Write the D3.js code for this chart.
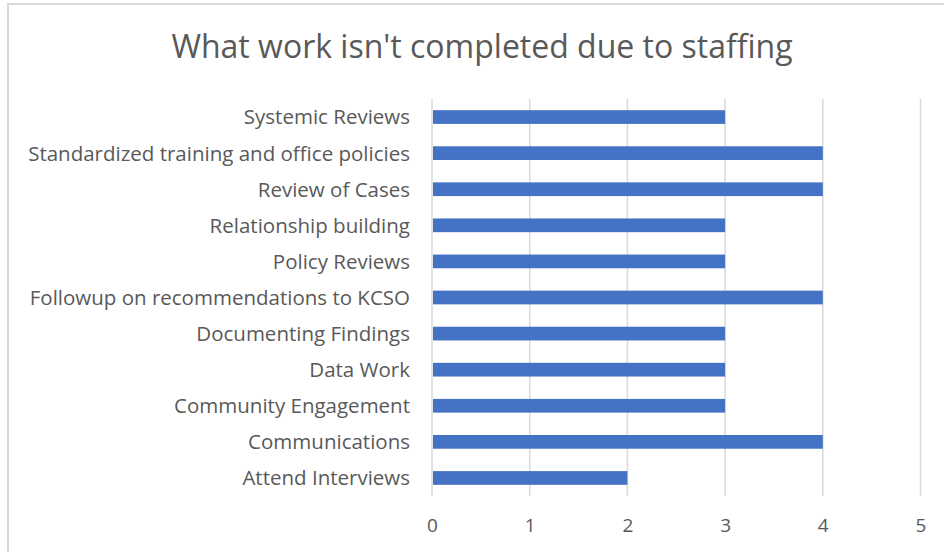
<!DOCTYPE html>
<html>
<head>
<meta charset="utf-8">
<script src="https://cdn.jsdelivr.net/npm/d3@7"></script>
<style>
  html, body { margin: 0; padding: 0; background: #fff; }
  svg { display: block; }
  text { font-family: "Open Sans", "Noto Sans", sans-serif; fill: #595959; }
</style>
</head>
<body>
<svg id="chart" width="944" height="552"></svg>
<script>
// Work items left undone because of staffing, listed top to bottom
const categories = [
  "Systemic Reviews",
  "Standardized training and office policies",
  "Review of Cases",
  "Relationship building",
  "Policy Reviews",
  "Followup on recommendations to KCSO",
  "Documenting Findings",
  "Data Work",
  "Community Engagement",
  "Communications",
  "Attend Interviews"
];
const counts = [3, 4, 4, 3, 3, 4, 3, 3, 3, 4, 2];
const xTicks = [0, 1, 2, 3, 4, 5];
const title = "What work isn't completed due to staffing";

const svg = d3.select("#chart");

// chart frame
svg.append("rect")
  .attr("x", 8).attr("y", 4)
  .attr("width", 960).attr("height", 580)
  .attr("fill", "#fff")
  .attr("stroke", "#d9d9d9")
  .attr("stroke-width", 2);

const plot = { left: 432, right: 920.5, top: 99, bottom: 496 };

const x = d3.scaleLinear().domain([0, 5]).range([plot.left, plot.right]);
const y = d3.scaleBand().domain(categories)
  .range([plot.top, plot.bottom])
  .paddingInner(0.62).paddingOuter(0.31);

// vertical gridlines
svg.append("g")
  .selectAll("line")
  .data(xTicks)
  .join("line")
  .attr("x1", d => x(d)).attr("x2", d => x(d))
  .attr("y1", plot.top).attr("y2", plot.bottom)
  .attr("stroke", "#d9d9d9")
  .attr("stroke-width", 1.5);

// bars
svg.append("g")
  .selectAll("rect")
  .data(categories)
  .join("rect")
  .attr("x", x(0) + 1)
  .attr("y", d => y(d))
  .attr("width", (d, i) => x(counts[i]) - x(0) - 1)
  .attr("height", y.bandwidth())
  .attr("fill", "#4472c4");

// x axis labels
const xAxis = d3.axisBottom(x).tickValues(xTicks).tickFormat(d3.format("d"))
  .tickSize(0).tickPadding(0);
const gx = svg.append("g")
  .attr("transform", `translate(0,${plot.bottom + 36})`)
  .call(xAxis);
gx.select(".domain").remove();
gx.selectAll("text")
  .attr("dy", 0)
  .style("font-size", "19px")
  .style("font-family", "\"Open Sans\", sans-serif")
  .attr("fill", "#595959");

// category labels
const yAxis = d3.axisLeft(y).tickSize(0).tickPadding(0);
const gy = svg.append("g")
  .attr("transform", `translate(410,0)`)
  .call(yAxis);
gy.select(".domain").remove();
gy.selectAll("text")
  .attr("dy", "0.36em")
  .style("font-size", "20.5px")
  .style("font-family", "\"Open Sans\", sans-serif")
  .attr("fill", "#595959");

// title
svg.append("text")
  .attr("x", 482)
  .attr("y", 58)
  .attr("text-anchor", "middle")
  .style("font-size", "32px")
  .text(title);
</script>
</body>
</html>
